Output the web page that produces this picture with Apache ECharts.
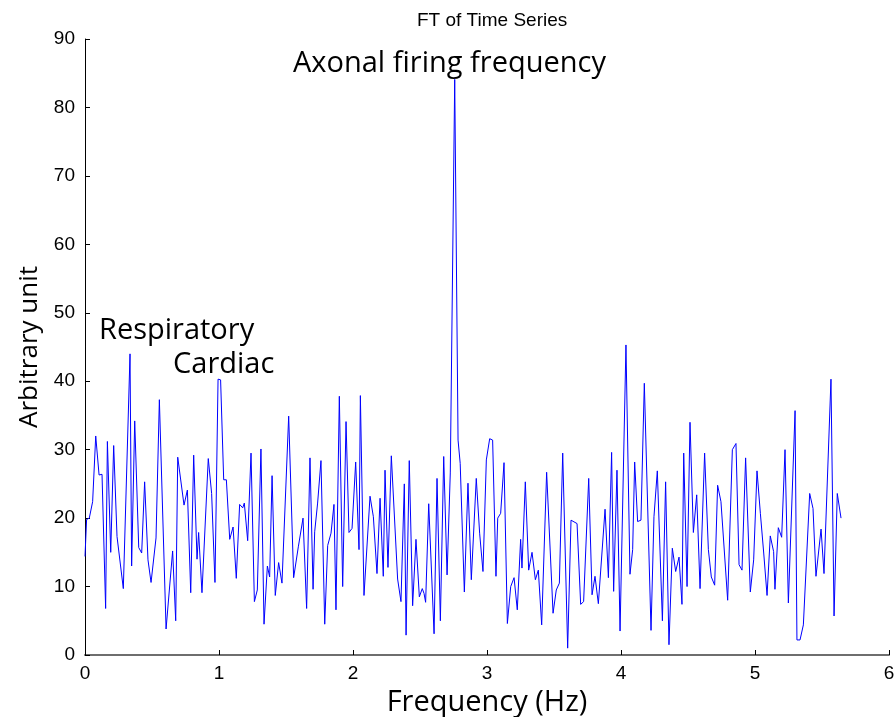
<!DOCTYPE html>
<html><head><meta charset="utf-8">
<script src="https://cdn.jsdelivr.net/npm/echarts@6/dist/echarts.min.js"></script>
<style>html,body{margin:0;padding:0;background:#fff}#c{width:896px;height:717px}</style>
</head><body><div id="c"></div>
<script>
const freqHz = [0,0.012,0.032,0.057,0.080,0.105,0.127,0.154,0.167,0.192,0.214,0.239,0.286,0.336,0.348,0.371,0.401,0.423,0.445,0.470,0.493,0.530,0.555,0.605,0.654,0.677,0.692,0.739,0.764,0.789,0.811,0.836,0.848,0.873,0.920,0.945,0.970,0.993,1.012,1.035,1.055,1.080,1.105,1.129,1.154,1.177,1.189,1.214,1.239,1.264,1.286,1.313,1.336,1.361,1.378,1.396,1.420,1.445,1.470,1.520,1.557,1.592,1.627,1.654,1.679,1.702,1.714,1.736,1.761,1.789,1.811,1.836,1.858,1.873,1.898,1.923,1.948,1.970,1.993,2.020,2.045,2.055,2.082,2.127,2.152,2.179,2.202,2.226,2.239,2.261,2.286,2.333,2.358,2.383,2.396,2.420,2.445,2.470,2.495,2.517,2.530,2.542,2.565,2.605,2.627,2.652,2.677,2.702,2.726,2.759,2.784,2.800,2.831,2.858,2.883,2.920,2.945,2.970,2.995,3.020,3.042,3.067,3.080,3.102,3.127,3.152,3.177,3.202,3.226,3.251,3.261,3.286,3.311,3.336,3.361,3.383,3.408,3.445,3.493,3.517,3.540,3.565,3.602,3.627,3.672,3.699,3.721,3.759,3.784,3.806,3.831,3.881,3.906,3.930,3.945,3.970,3.993,4.037,4.067,4.087,4.102,4.124,4.149,4.174,4.224,4.246,4.271,4.309,4.333,4.358,4.383,4.408,4.433,4.455,4.468,4.493,4.515,4.540,4.565,4.590,4.624,4.652,4.674,4.699,4.721,4.746,4.796,4.831,4.858,4.881,4.903,4.930,4.965,4.990,5.015,5.040,5.065,5.090,5.114,5.139,5.149,5.174,5.199,5.224,5.249,5.299,5.313,5.336,5.361,5.408,5.433,5.455,5.493,5.515,5.567,5.590,5.614,5.642];
const amplitude = [14.4,19.8,20.0,22.4,32.0,26.3,26.4,6.8,31.2,15.0,30.6,17.3,9.7,44.0,13.0,34.2,15.7,14.9,25.3,13.9,10.6,17.1,37.3,3.8,15.2,5.0,28.9,21.9,24.1,9.1,29.2,14.0,17.9,9.1,28.7,23.6,10.6,40.3,40.2,25.6,25.6,16.9,18.7,11.2,22.0,21.5,22.2,16.7,29.5,7.8,9.5,30.1,4.5,13.0,11.4,26.2,8.7,13.5,10.5,34.9,11.3,15.8,20.0,6.8,28.8,9.6,18.0,22.2,28.4,4.5,16.0,17.8,22.0,6.6,37.8,10.0,34.1,17.9,18.5,28.2,15.4,37.9,8.7,23.2,20.2,11.9,22.9,11.5,27.0,12.8,29.1,11.1,7.8,25.0,2.9,28.4,7.2,16.9,8.5,9.7,9.0,7.7,22.1,3.1,25.8,5.0,29.0,11.7,26.6,84.1,31.4,28.0,9.2,25.1,11.0,25.8,17.8,12.2,28.5,31.6,31.4,11.5,20.0,20.7,28.1,4.6,10.0,11.3,6.6,16.9,12.7,25.3,12.4,15.0,11.0,12.4,4.4,26.7,6.1,9.5,10.5,29.5,1.0,19.7,19.2,7.4,7.8,25.8,8.8,11.5,7.5,21.3,11.3,29.6,9.3,27.0,3.5,45.3,11.8,15.4,28.2,19.5,19.7,39.7,3.6,20.2,26.9,5.0,25.3,1.5,15.6,12.2,14.3,7.4,29.5,10.0,34.0,17.9,23.4,9.7,29.5,15.4,11.4,10.2,24.8,22.4,8.0,30.0,30.9,13.2,12.4,28.8,9.2,13.9,26.9,20.7,14.9,8.7,17.4,15.1,9.6,18.6,17.2,30.0,7.6,35.7,2.2,2.2,4.4,23.6,21.4,11.5,18.4,11.9,40.3,5.7,23.6,20.0];
const xTicks = [0,1,2,3,4,5,6];
const yTicks = [0,10,20,30,40,50,60,70,80,90];
const titleText = 'FT of Time Series';
const xName = 'Frequency (Hz)';
const yName = 'Arbitrary unit';
const notes = ['Axonal firing frequency','Respiratory','Cardiac'];

const seriesData = freqHz.map((f,i)=>[f, amplitude[i]]);
const chart = echarts.init(document.getElementById('c'), null, {renderer:'canvas'});
const axisFont = 'Liberation Sans, Arial, sans-serif';
const nameFont = 'Open Sans, DejaVu Sans, sans-serif';
chart.setOption({
  animation:false,
  backgroundColor:'#fff',
  title:{text:titleText,left:412,top:6,textStyle:{fontFamily:axisFont,fontSize:19,fontWeight:'normal',color:'#000'}},
  grid:{left:85,right:7,top:39,bottom:62,containLabel:false,outerBoundsMode:'none'},
  xAxis:{type:'value',min:xTicks[0],max:xTicks[xTicks.length-1],interval:1,
    name:xName,nameLocation:'middle',nameGap:27,
    nameTextStyle:{fontFamily:nameFont,fontSize:29,color:'#000'},
    axisLine:{show:true,onZero:false,lineStyle:{color:'#6e6e6e',width:2}},
    axisTick:{show:true,inside:true,length:5,lineStyle:{color:'#000'}},
    axisLabel:{fontFamily:axisFont,fontSize:19,color:'#000',margin:9},
    splitLine:{show:false}},
  yAxis:{type:'value',min:yTicks[0],max:yTicks[yTicks.length-1],interval:10,
    name:yName,nameLocation:'middle',nameGap:42,
    nameTextStyle:{fontFamily:nameFont,fontSize:26,color:'#000'},
    axisLine:{show:true,lineStyle:{color:'#000',width:1}},
    axisTick:{show:true,inside:true,length:5,lineStyle:{color:'#000'}},
    axisLabel:{fontFamily:axisFont,fontSize:19,color:'#000',margin:10},
    splitLine:{show:false}},
  graphic:[
    {type:'text',left:293,top:49,style:{text:notes[0],font:'29px Open Sans, DejaVu Sans, sans-serif',fill:'#000'}},
    {type:'text',left:99,top:316,style:{text:notes[1],font:'29px Open Sans, DejaVu Sans, sans-serif',fill:'#000'}},
    {type:'text',left:173,top:350,style:{text:notes[2],font:'29px Open Sans, DejaVu Sans, sans-serif',fill:'#000'}}
  ],
  series:[{type:'line',data:seriesData,showSymbol:false,symbol:'none',
    lineStyle:{color:'#0000ff',width:1},z:3}]
});
</script></body></html>
